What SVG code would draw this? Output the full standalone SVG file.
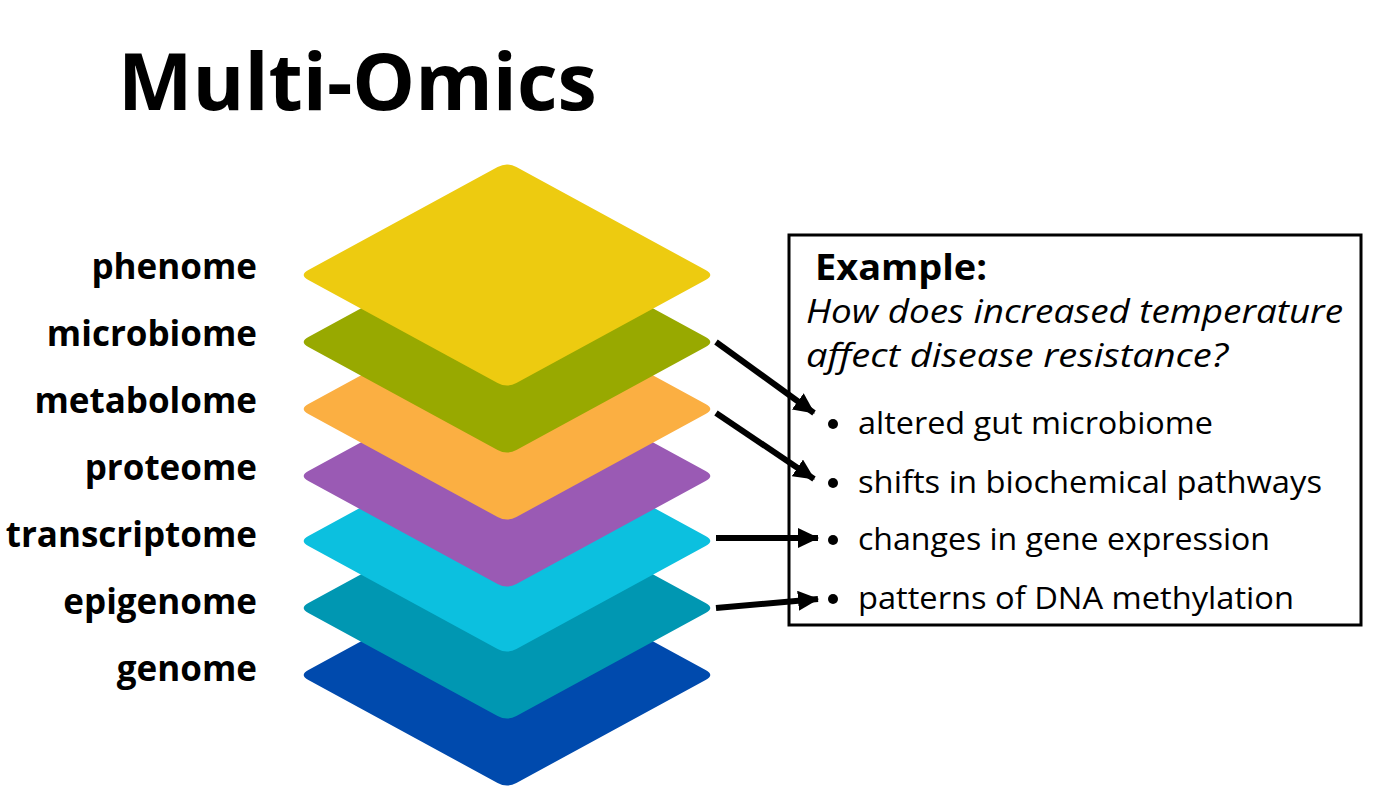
<svg xmlns="http://www.w3.org/2000/svg" xmlns:xlink="http://www.w3.org/1999/xlink" width="1384" height="794" viewBox="0 0 1384 794">
<style>
.lbl{font-family:"Open Sans","Liberation Sans",sans-serif;font-weight:700;font-size:35px;fill:#000;text-anchor:end}
.title{font-family:"Open Sans","Liberation Sans",sans-serif;font-weight:700;font-size:79px;fill:#000}
.ex{font-family:"Open Sans","Liberation Sans",sans-serif;font-weight:700;font-size:35px;fill:#000}
.q{font-family:"Open Sans","Liberation Sans",sans-serif;font-style:italic;font-size:33px;fill:#000}
.b{font-family:"Open Sans","Liberation Sans",sans-serif;font-size:31px;fill:#000}
.conn{stroke:#000;stroke-width:6;fill:none;marker-end:url(#ah)}
</style>
<defs>
<path id="dia" d="M9.4,-108 L198.6,-5 Q208,0 198.6,5 L9.4,108 Q0,113 -9.4,108 L-198.6,5 Q-208,0 -198.6,-5 L-9.4,-108 Q0,-113 9.4,-108 Z"/>
<marker id="ah" markerUnits="userSpaceOnUse" markerWidth="21" markerHeight="20" refX="20" refY="10" orient="auto">
<path d="M0,0 L21,10 L0,20 Z" fill="#000"/>
</marker>
</defs>
<rect width="1384" height="794" fill="#fff"/>
<text class="title" x="118" y="110">Multi-Omics</text>
<g id="genome"><use href="#dia" x="507" y="675" fill="#004AAD"/><text class="lbl" x="257" y="681">genome</text></g>
<g id="epigenome"><use href="#dia" x="507" y="608" fill="#0097B2"/><text class="lbl" x="257" y="614">epigenome</text></g>
<g id="transcriptome"><use href="#dia" x="507" y="541" fill="#0CC0DF"/><text class="lbl" x="257" y="547">transcriptome</text></g>
<g id="proteome"><use href="#dia" x="507" y="476" fill="#9A5AB4"/><text class="lbl" x="257" y="480">proteome</text></g>
<g id="metabolome"><use href="#dia" x="507" y="409" fill="#FBAF42"/><text class="lbl" x="257" y="413">metabolome</text></g>
<g id="microbiome"><use href="#dia" x="507" y="342" fill="#98A900"/><text class="lbl" x="257" y="346">microbiome</text></g>
<g id="phenome"><use href="#dia" x="507" y="275" fill="#EDCB10"/><text class="lbl" x="257" y="279">phenome</text></g>
<g id="example">
<rect x="789" y="235" width="572" height="390" fill="none" stroke="#000" stroke-width="3"/>
<text class="ex" x="815" y="280" textLength="172" lengthAdjust="spacingAndGlyphs">Example:</text>
<text class="q" x="806" y="323" textLength="537" lengthAdjust="spacingAndGlyphs">How does increased temperature</text>
<text class="q" x="806" y="367" textLength="422" lengthAdjust="spacingAndGlyphs">affect disease resistance?</text>
<circle cx="833" cy="424" r="5"/><text class="b" x="858" y="434" textLength="355" lengthAdjust="spacingAndGlyphs">altered gut microbiome</text>
<circle cx="833" cy="483" r="5"/><text class="b" x="858" y="493" textLength="464" lengthAdjust="spacingAndGlyphs">shifts in biochemical pathways</text>
<circle cx="833" cy="540" r="5"/><text class="b" x="858" y="550" textLength="412" lengthAdjust="spacingAndGlyphs">changes in gene expression</text>
<circle cx="833" cy="599" r="5"/><text class="b" x="858" y="609" textLength="436" lengthAdjust="spacingAndGlyphs">patterns of DNA methylation</text>
</g>
<g id="connectors">
<line class="conn" x1="716" y1="342" x2="814" y2="413"/>
<line class="conn" x1="716" y1="413" x2="814" y2="479"/>
<line class="conn" x1="716" y1="538" x2="818" y2="538"/>
<line class="conn" x1="716" y1="608" x2="818" y2="599"/>
</g>
</svg>
